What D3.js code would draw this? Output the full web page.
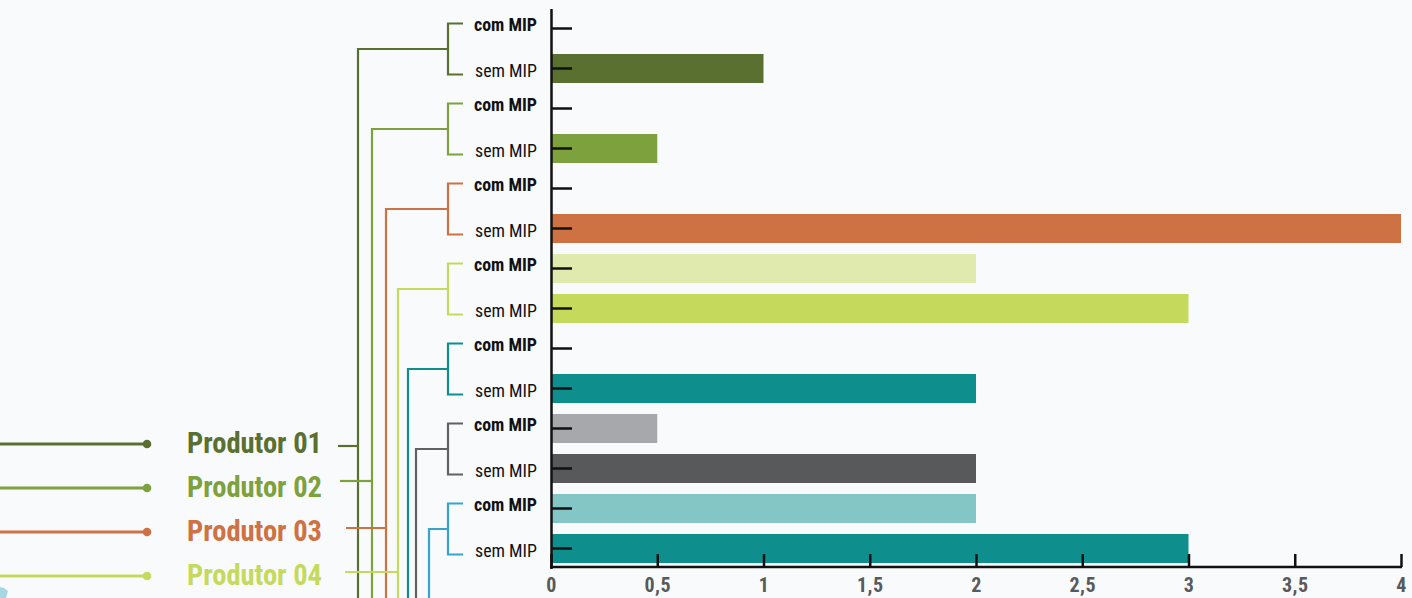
<!DOCTYPE html>
<html>
<head>
<meta charset="utf-8">
<script src="https://cdn.jsdelivr.net/npm/d3@7"></script>
<style>
  html, body { margin: 0; padding: 0; background: #f9fafc; overflow: hidden; }
  svg { display: block; }
  text { font-family: "Liberation Sans Narrow", "Arial Narrow", "Roboto Condensed", sans-serif; }
</style>
</head>
<body>
<svg id="chart" width="1412" height="598"></svg>
<script>
// Producers and the two treatments compared for each one
const producers = ["Produtor 01", "Produtor 02", "Produtor 03", "Produtor 04", "Produtor 05", "Produtor 06", "Produtor 07"];
const treatments = ["com MIP", "sem MIP"];

// Values per producer, in producer order
const comMIP = [0, 0, 0, 2, 0, 0.5, 2];
const semMIP = [1, 0.5, 4, 3, 2, 2, 3];

// Value axis ticks and their labels
const xTicks = [0, 0.5, 1, 1.5, 2, 2.5, 3, 3.5, 4];
const xTickLabels = ["0", "0,5", "1", "1,5", "2", "2,5", "3", "3,5", "4"];

// Palette
const producerColors = ["#5a7030", "#7da13c", "#ce7243", "#c5da5d", "#0e8f8e", "#606163", "#35a5cf"];
const comColors = ["#5a7030", "#7da13c", "#ce7243", "#e0eaae", "#0e8f8e", "#a7a8ac", "#84c6c5"];
const semColors = ["#5a7030", "#7da13c", "#ce7243", "#c5da5d", "#0e8f8e", "#58595b", "#0e8f8e"];

// Tree layout on the left: trunk x of each producer and where its branch meets the legend
const trunkX = [358, 372, 386, 398, 408, 416, 429];
const connectorY = [446, 481, 528, 572, 616, 660, 704];
const connectorStartX = [338, 340, 346, 345, 345, 345, 345];

const W = 1412, H = 598;
const svg = d3.select("#chart");

const rows = [];
producers.forEach((p, i) => {
  rows.push({ key: p + "|com", producer: i, treatment: treatments[0], value: comMIP[i], color: comColors[i] });
  rows.push({ key: p + "|sem", producer: i, treatment: treatments[1], value: semMIP[i], color: semColors[i] });
});

const x = d3.scaleLinear().domain([0, 4]).range([551, 1401]);
const y = d3.scaleBand().domain(rows.map(d => d.key)).range([8.5, 568.5]).padding(0);
const barH = 29;
const yc = key => y(key) + y.bandwidth() / 2;

// Bars
svg.append("g").selectAll("rect")
  .data(rows.filter(d => d.value > 0))
  .join("rect")
  .attr("x", x(0))
  .attr("y", d => yc(d.key) - barH / 2)
  .attr("width", d => x(d.value) - x(0))
  .attr("height", barH)
  .attr("fill", d => d.color);

// Category axis: line plus short inward ticks
const yAxis = svg.append("g")
  .attr("transform", `translate(${x(0)},0)`)
  .call(d3.axisLeft(y).tickSize(-21).tickSizeOuter(0).tickFormat(""));
yAxis.select(".domain").attr("stroke", "#111").attr("stroke-width", 2.5);
yAxis.selectAll(".tick line").attr("stroke", "#111").attr("stroke-width", 2.5);

// Value axis
const axisY = 567;
const xAxis = svg.append("g")
  .attr("transform", `translate(0,${axisY})`)
  .call(d3.axisBottom(x).tickValues(xTicks).tickSize(-13).tickSizeOuter(0)
    .tickFormat((d, i) => xTickLabels[i]));
xAxis.select(".domain").attr("stroke", "#111").attr("stroke-width", 2.5)
  .attr("d", `M${x(0) - 1},0H${x(4) + 1}`);
xAxis.selectAll(".tick line").attr("stroke", "#111").attr("stroke-width", 2.5);
xAxis.selectAll(".tick text")
  .attr("y", 0).attr("dy", 25)
  .attr("fill", "#58595b")
  .attr("font-size", 20)
  .attr("font-weight", "bold")
  .style("letter-spacing", "0.5px");

// Row labels
svg.append("g").selectAll("text")
  .data(rows)
  .join("text")
  .attr("x", 537)
  .attr("y", d => yc(d.key) + (d.treatment === treatments[0] ? 2 : 8))
  .attr("text-anchor", "end")
  .attr("font-size", 17.5)
  .attr("font-weight", d => d.treatment === treatments[0] ? "bold" : "normal")
  .attr("fill", "#111")
  .attr("textLength", d => d.treatment === treatments[0] ? 63 : 62)
  .attr("lengthAdjust", "spacingAndGlyphs")
  .text(d => d.treatment);

// Tree of brackets joining each producer's two rows; trunks run on down the page
const tree = svg.append("g").attr("fill", "none").attr("stroke-width", 2.2);
producers.forEach((p, i) => {
  const top = yc(p + "|com") - 5;
  const bottom = yc(p + "|sem") + 6;
  const mid = (top + bottom) / 2;
  const c = producerColors[i];
  tree.append("path")
    .attr("stroke", c)
    .attr("d", `M463,${top}H448V${bottom}H463`);
  tree.append("path")
    .attr("stroke", c)
    .attr("d", `M448,${mid}H${trunkX[i]}V${H + 10}`);
  tree.append("path")
    .attr("stroke", c)
    .attr("d", `M${connectorStartX[i]},${connectorY[i]}H${trunkX[i]}`);
});

// Legend entries (only those that fall inside the drawing area)
const legendY = producers.map((p, i) => 444 + 44 * i);
const legendItems = producers.map((p, i) => ({ name: p, i, y: legendY[i] })).filter(d => d.y < H - 10);
const legend = svg.append("g");
legendItems.forEach(d => {
  const c = producerColors[d.i];
  legend.append("line")
    .attr("x1", 0).attr("x2", 147)
    .attr("y1", d.y).attr("y2", d.y)
    .attr("stroke", c).attr("stroke-width", 3);
  legend.append("circle")
    .attr("cx", 147).attr("cy", d.y).attr("r", 4.3)
    .attr("fill", c);
  legend.append("text")
    .attr("x", 187).attr("y", d.y + 9)
    .attr("font-size", 29).attr("font-weight", "bold")
    .attr("fill", c)
    .attr("textLength", 135).attr("lengthAdjust", "spacingAndGlyphs")
    .text(d.name);
});

// Edge of a decorative shape peeking in at the bottom-left corner
svg.append("path")
  .attr("d", "M0,587L4,588L8,591L6,598L0,598Z")
  .attr("fill", "#a6d6e4");
</script>
</body>
</html>
